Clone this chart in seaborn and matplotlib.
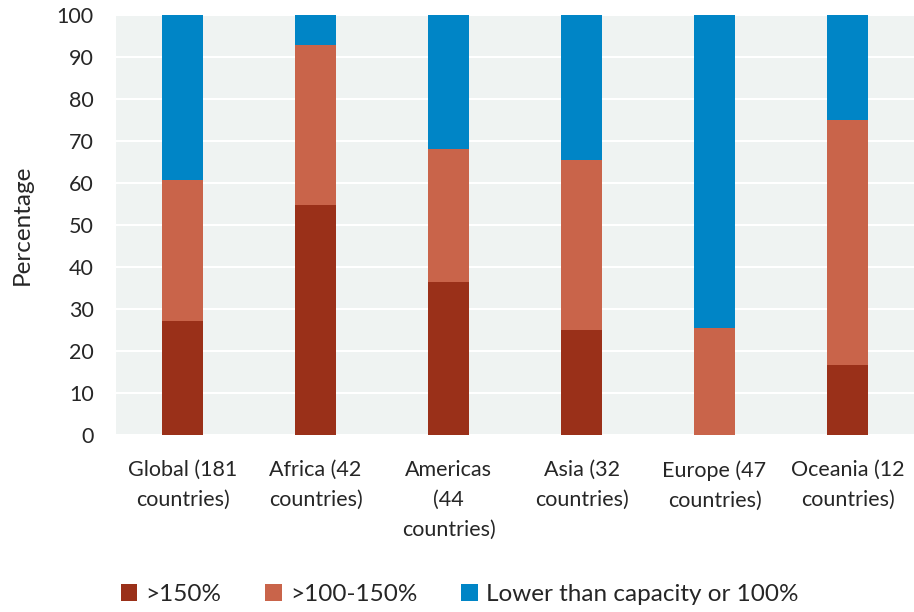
import pandas as pd
import matplotlib.pyplot as plt
import seaborn as sns

# Data (percent of countries)
regions = [
    "Global (181\ncountries)", "Africa (42\ncountries)", "Americas\n(44\ncountries)",
    "Asia (32\ncountries)", "Europe (47\ncountries)", "Oceania (12\ncountries)",
]
over_150 = [27.1, 54.8, 36.4, 25.0, 0.0, 16.7]
between_100_150 = [33.7, 38.1, 31.8, 40.6, 25.5, 58.3]
under_100 = [39.2, 7.1, 31.8, 34.4, 74.5, 25.0]

labels = [">150%", ">100-150%", "Lower than capacity or 100%"]
colors = ["#9a3019", "#c9644a", "#0085c6"]

df = pd.DataFrame({
    "region": regions,
    "over_150": over_150,
    "between": between_100_150,
    "under": under_100,
})
# cumulative tops for stacking (draw tallest first, overlap the rest)
df["top_red"] = df["over_150"]
df["top_orange"] = df["over_150"] + df["between"]
df["top_blue"] = df["top_orange"] + df["under"]

sns.set_theme(style="white")
plt.rcParams["font.family"] = ["Lato", "DejaVu Sans"]

fig = plt.figure(figsize=(9.14, 6.12), dpi=100)
ax = fig.add_axes([0.127, 0.289, 0.873, 0.686])
ax.set_facecolor("#eff3f2")

for col, color, lab in [("top_blue", colors[2], labels[2]),
                        ("top_orange", colors[1], labels[1]),
                        ("top_red", colors[0], labels[0])]:
    sns.barplot(data=df, x="region", y=col, color=color, width=0.31,
                saturation=1, label=lab, ax=ax, zorder=3, linewidth=0)

ax.set_ylim(0, 100)
ax.set_xlim(-0.5, 5.5)
ax.set_yticks(range(0, 101, 10))
ax.grid(axis="y", color="white", linewidth=1.5, zorder=0)
ax.set_axisbelow(True)
for s in ax.spines.values():
    s.set_visible(False)
ax.tick_params(axis="both", length=0, labelsize=15.5, colors="#262626")
ax.tick_params(axis="y", pad=16)
ax.tick_params(axis="x", pad=18)
for t in ax.get_xticklabels():
    t.set_linespacing(1.62)
ax.set_xlabel("")
ax.set_ylabel("Percentage", fontsize=17.5, color="#262626", labelpad=17)

handles, labs = ax.get_legend_handles_labels()
order = [labs.index(l) for l in labels]
fig.legend([handles[i] for i in order], labels, loc="center",
           bbox_to_anchor=(0.503, 0.028), ncol=3, frameon=False,
           fontsize=17.5, handlelength=0.68, handleheight=0.68,
           handletextpad=0.35, columnspacing=1.8, labelcolor="#262626")
if ax.get_legend():
    ax.get_legend().remove()

fig.savefig("out.png", dpi=100)
